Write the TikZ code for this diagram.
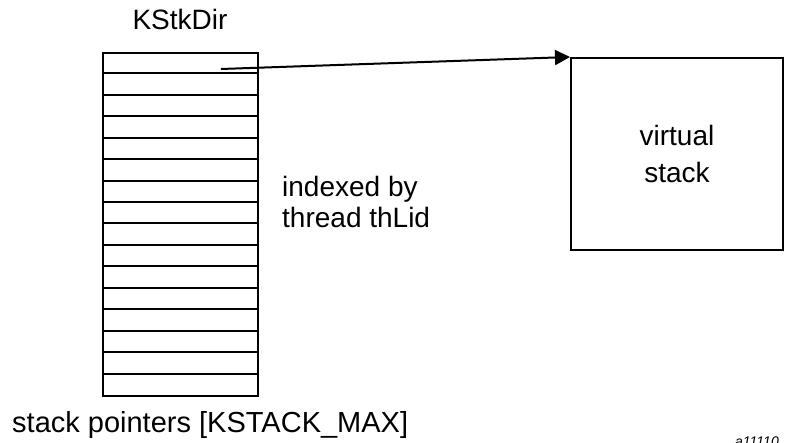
\documentclass[tikz,border=0pt]{standalone}
\usepackage{fontspec}
\setmainfont{Liberation Sans}
\usetikzlibrary{arrows.meta,calc}
\tikzset{
  outline/.style={draw=black, line width=2pt},
  bigtext/.style={inner sep=0pt, font=\fontsize{28}{31}\selectfont},
  arrowline/.style={draw=black, line width=2pt, -{Triangle[length=15pt,width=15pt]}}
}
\begin{document}
\begin{tikzpicture}[x=1pt,y=-1pt]
\useasboundingbox (0,0) rectangle (787,443);
% stack directory
\node[outline, minimum width=155pt, minimum height=343pt, inner sep=0pt, anchor=north west] (dir) at (102,52) {};
\foreach \i in {1,...,15} {
  \draw[line width=2pt] ($(dir.north west)+(0,\i*21.4375)$) -- ($(dir.north east)+(0,\i*21.4375)$);
}
\coordinate (p) at (221,69);
% virtual stack
\node[outline, minimum width=212pt, minimum height=192pt, inner sep=0pt, anchor=north west,
      align=center, font=\fontsize{28}{37}\selectfont] (vs) at (570,57) {virtual\\stack};
\draw[arrowline] (p) -- (vs.north west);
% labels
\node[bigtext, anchor=base] (title) at (180,30) {KStkDir};
\node[bigtext, anchor=base west] (idx1) at (282,197) {indexed by};
\node[bigtext, anchor=base west] (idx2) at (282,228) {thread thLid};
\node[bigtext, anchor=base west, font=\fontsize{29}{31}\selectfont] (sp) at (12,432) {stack pointers [KSTACK\_MAX]};
\node[inner sep=0pt, anchor=base west, font=\fontsize{14}{16}\selectfont\itshape] (fig) at (735,446) {a11110};
\end{tikzpicture}
\end{document}
